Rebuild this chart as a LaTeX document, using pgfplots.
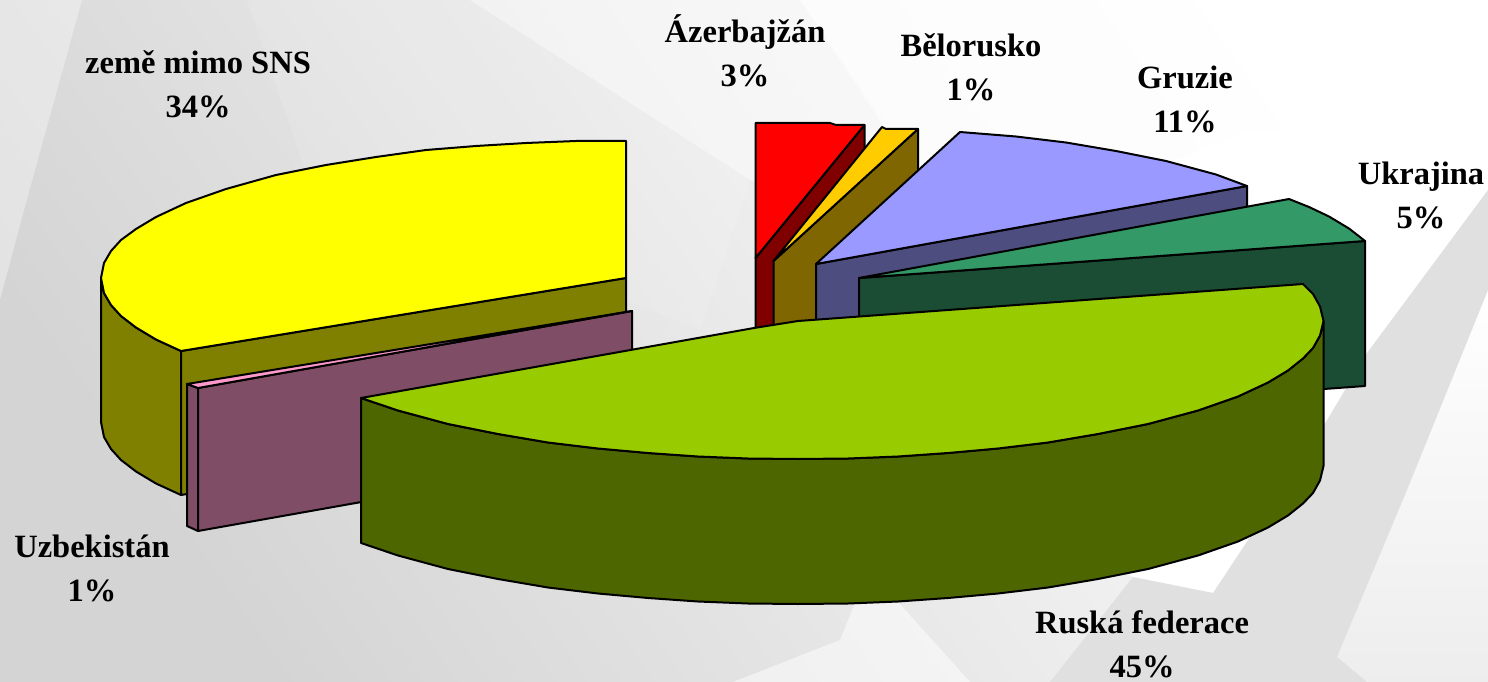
\documentclass[border=0pt]{standalone}
\usepackage{pgfplots}
\pgfplotsset{compat=1.18}
\usepackage{fontspec}
\setmainfont{Liberation Serif}
\definecolor{cyel}{HTML}{FFFF00}\definecolor{dyel}{HTML}{808000}
\definecolor{cpin}{HTML}{FF99CC}\definecolor{dpin}{HTML}{804D66}
\definecolor{cred}{HTML}{FF0000}\definecolor{dred}{HTML}{800000}
\definecolor{cora}{HTML}{FFCC00}\definecolor{dora}{HTML}{806600}
\definecolor{cper}{HTML}{9999FF}\definecolor{dper}{HTML}{4D4D80}
\definecolor{cgre}{HTML}{339966}\definecolor{dgre}{HTML}{1A4D33}
\definecolor{clim}{HTML}{99CC00}\definecolor{dlim}{HTML}{4D6600}
\definecolor{bgA}{HTML}{D4D4D4}\definecolor{bgB}{HTML}{E2E2E2}\definecolor{bgC}{HTML}{FFFFFF}
\tikzset{lbl/.style={font=\fontsize{32.5}{44}\selectfont\bfseries,align=center,inner sep=0pt}}
\begin{document}
\begin{tikzpicture}
\begin{axis}[scale only axis,width=1488pt,height=682pt,xmin=0,xmax=1488,ymin=0,ymax=682,y dir=reverse,
  hide axis,clip=true,
  every axis plot/.append style={draw=black,line width=2pt,line join=round,mark=none}]
% background
\addplot[draw=none,bottom color=bgA,middle color=bgB,top color=bgC,shading angle=-55] coordinates {(0,0)(1488,0)(1488,682)(0,682)} -- cycle;
\addplot[draw=none,fill=white,fill opacity=0.35] coordinates {(0,0)(82,0)(24,210)(0,300)} -- cycle;
\addplot[draw=none,fill=white,fill opacity=0.12] coordinates {(247,0)(470,0)(750,180)(700,330)(305,170)} -- cycle;
\addplot[draw=none,fill=white,fill opacity=0.45] coordinates {(470,0)(1488,0)(1488,230)(1380,350)(750,180)} -- cycle;
\addplot[draw=none,fill=white,fill opacity=0.6] coordinates {(800,0)(1488,0)(1488,190)(1367,353)(1000,300)} -- cycle;
\addplot[draw=none,fill=white] coordinates {(1000,230)(1250,130)(1488,150)(1488,190)(1367,353)(1323,427)(1213,593)(1133,577)(1000,500)} -- cycle;
\addplot[draw=none,top color=white,bottom color=black!7] coordinates {(1488,290)(1488,682)(1367,682)(1337,657)(1407,490)} -- cycle;
\addplot[draw=none,fill=black!12] coordinates {(1488,190)(1488,290)(1407,490)(1337,657)(1367,682)(1050,682)(1133,577)(1213,593)(1323,427)(1367,353)} -- cycle;
\addplot[draw=none,fill=white,fill opacity=0.5] coordinates {(855,603)(899,603)(970,682)(733,682)(840,640)} -- cycle;
% yellow side
\addplot[fill=dyel] coordinates {(101,278)(104,293)(111,305)(121,316)(136,327.5)(156,339.5)(181,351)(181,495)(156,483.5)(136,471.5)(121,460)(111,449)(104,437)(101,422)} -- cycle;
\addplot[fill=dyel] coordinates {(181,351)(626,278)(626,422)(181,495)} -- cycle;
% yellow top
\addplot[fill=cyel] coordinates {(626,141)(576,141)(526,143)(476,146)(426,150)(376,157)(326,165)(276,175)(226,189)(186,203)(156,217)(136,229)(121,240)(111,251)(104,263)(101,278)(104,293)(111,305)(121,316)(136,327.5)(156,339.5)(181,351)(626,278)} -- cycle;
% mauve
\addplot[fill=dpin] coordinates {(187,384)(198,388)(198,531)(187,526)} -- cycle;
\addplot[fill=dpin] coordinates {(198,388)(632,311)(632,454)(198,531)} -- cycle;
\addplot[fill=cpin] coordinates {(187,384)(632,311)(198,388)} -- cycle;
% red
\addplot[fill=dred] coordinates {(755.5,258)(864.5,125)(864.5,270)(755.5,403)} -- cycle;
\addplot[fill=cred] coordinates {(755.5,123)(830,123)(836,125)(864.5,125)(755.5,258)} -- cycle;
% orange
\addplot[fill=dora] coordinates {(773.5,261)(918,129)(918,275)(773.5,406)} -- cycle;
\addplot[fill=cora] coordinates {(773.5,261)(882,127)(886,129)(918,129)} -- cycle;
% periwinkle
\addplot[fill=dper] coordinates {(816,264)(1247,186)(1247,331)(816,409)} -- cycle;
\addplot[fill=cper] coordinates {(816,264)(960,132)(1016,136.5)(1066,142.5)(1116,151)(1166,161)(1216,174.5)(1247,186)} -- cycle;
% green
\addplot[fill=dgre] coordinates {(859,278)(1365,241)(1365,386)(859,423)} -- cycle;
\addplot[fill=cgre] coordinates {(859,278)(1289,199)(1309,207)(1329,216.5)(1349,228.5)(1365,241)} -- cycle;
% lime side
\addplot[fill=dlim] coordinates {(361,398)(398,410.5)(448,424)(498,434)(548,442.5)(598,448.5)(648,453)(698,456.5)(748,458.5)(798,459)(848,458.5)(898,456.5)(948,453)(998,448.5)(1048,442.5)(1098,434)(1148,424)(1198,410.5)(1238,396.5)(1268,382.5)(1288,370.5)(1303,358.5)(1313,348)(1320,335.5)(1323.5,321)(1323.5,466)(1320,480.5)(1313,493)(1303,503.5)(1288,515.5)(1268,527.5)(1238,541.5)(1198,555.5)(1148,569)(1098,579)(1048,587.5)(998,593.5)(948,598)(898,601.5)(848,603.5)(798,604)(748,603.5)(698,601.5)(648,598)(598,593.5)(548,587.5)(498,579)(448,569)(398,555.5)(361,543)} -- cycle;
\addplot[fill=clim] coordinates {(361,398)(398,410.5)(448,424)(498,434)(548,442.5)(598,448.5)(648,453)(698,456.5)(748,458.5)(798,459)(848,458.5)(898,456.5)(948,453)(998,448.5)(1048,442.5)(1098,434)(1148,424)(1198,410.5)(1238,396.5)(1268,382.5)(1288,370.5)(1303,358.5)(1313,348)(1320,335.5)(1323.5,321)(1320,306.5)(1313,294)(1303,284)(798,321)(754,328)} -- cycle;
% labels
\node[lbl] at (axis cs:745,51) {Ázerbajžán\\3\%};
\node[lbl] at (axis cs:971,67) {Bělorusko\\1\%};
\node[lbl] at (axis cs:1185,99) {Gruzie\\11\%};
\node[lbl] at (axis cs:1421,195) {Ukrajina\\5\%};
\node[lbl] at (axis cs:198,84) {země mimo SNS\\34\%};
\node[lbl] at (axis cs:92,568) {Uzbekistán\\1\%};
\node[lbl] at (axis cs:1142,644) {Ruská federace\\45\%};
\end{axis}
\end{tikzpicture}
\end{document}
